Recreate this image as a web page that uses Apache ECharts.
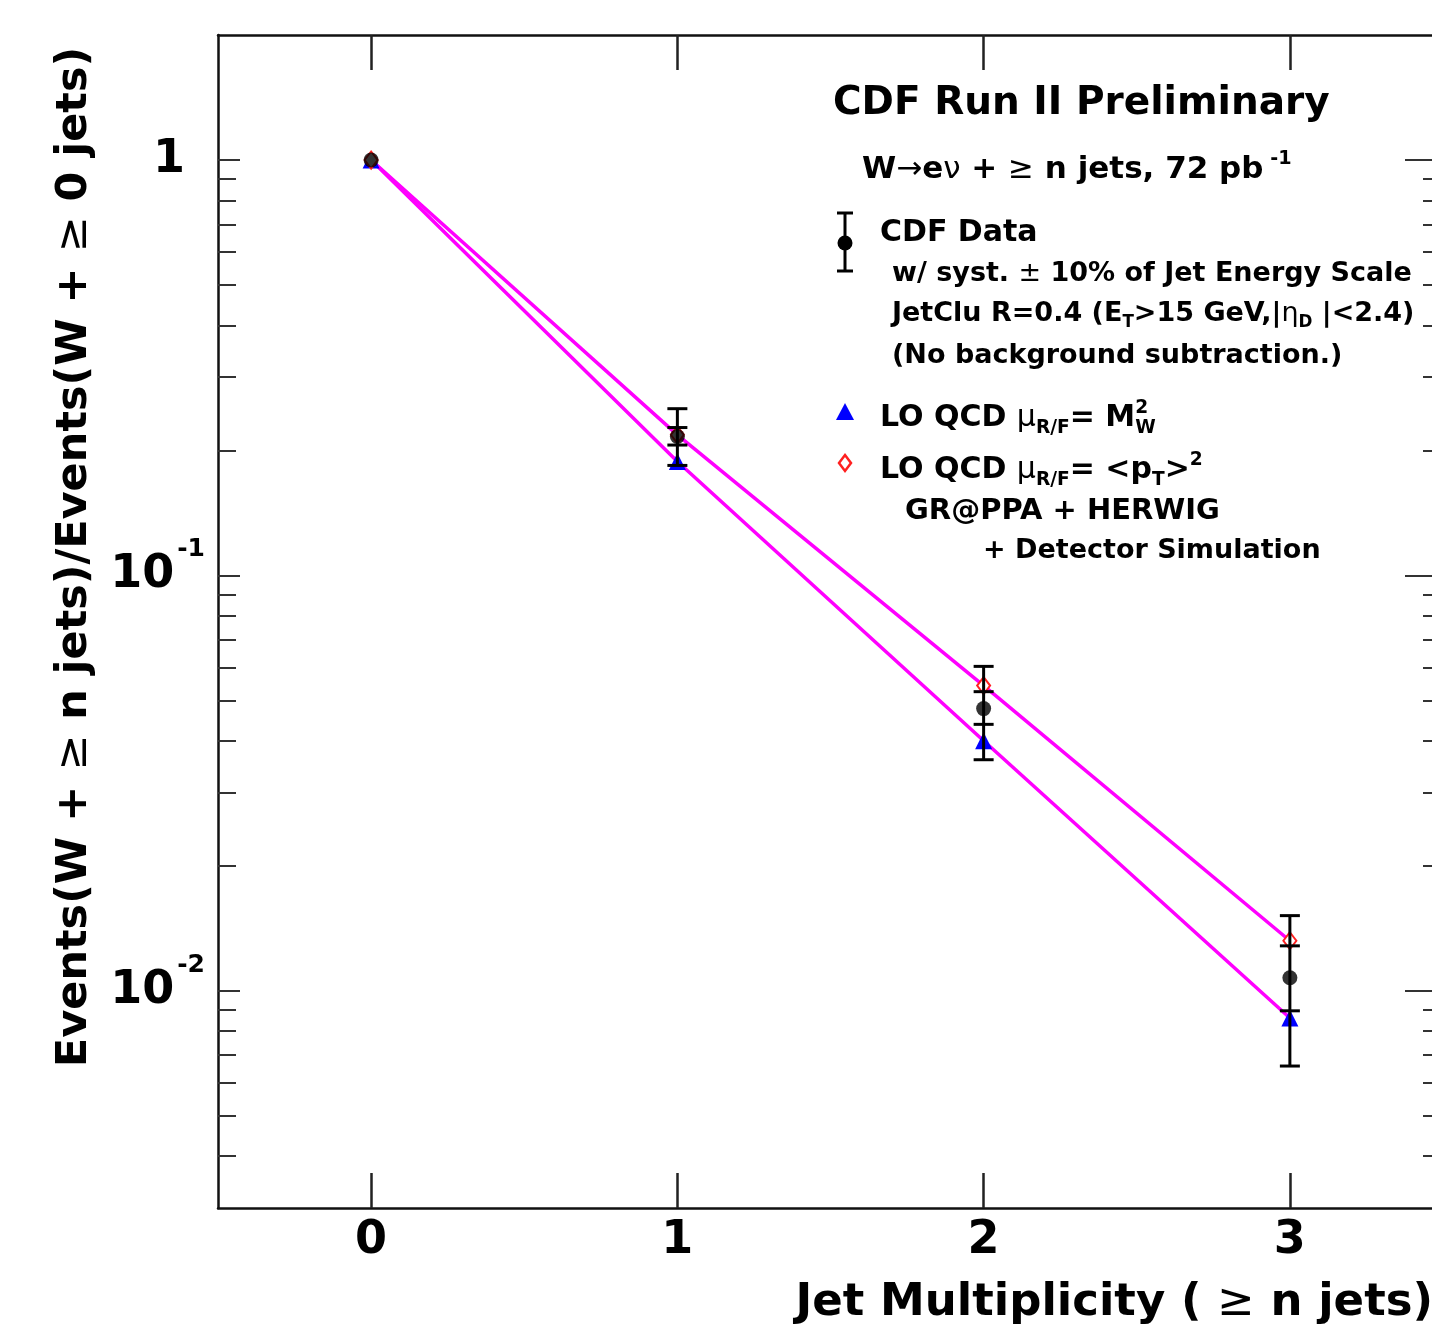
<!DOCTYPE html>
<html>
<head>
<meta charset="utf-8">
<script src="https://cdn.jsdelivr.net/npm/echarts@6/dist/echarts.min.js"></script>
<style>
html, body { margin: 0; padding: 0; background: #fff; }
#jetchart { width: 1432px; height: 1338px; }
</style>
</head>
<body>
<div id="jetchart"></div>
<script>
// jet multiplicity bins
var nJets = [0, 1, 2, 3];
// CDF data, ratio to >= 0 jets
var cdfRatio = [1.0, 0.216, 0.0478, 0.01075];
var cdfStatLow = [1.0, 0.206, 0.0438, 0.00895];
var cdfStatHigh = [1.0, 0.227, 0.0525, 0.01283];
var cdfTotLow = [1.0, 0.184, 0.0360, 0.00659];
var cdfTotHigh = [1.0, 0.252, 0.0604, 0.01517];
// LO QCD predictions
var lqcdMw = [1.0, 0.188, 0.0400, 0.0086];
var lqcdPt = [1.0, 0.218, 0.0543, 0.0132];
// axis ticks
var xTicks = [0, 1, 2, 3];
var yMin = 0.003, yMax = 2;

var F = 'DejaVu Sans';
var logMin = Math.log10(yMin), logMax = Math.log10(yMax);
var majorLog = [-2, -1, 0];
var minorLog = [];
for (var d = -3; d <= 0; d++) {
	for (var k = 2; k <= 9; k++) {
		var v = d + Math.log10(k);
		if (v > logMin + 1e-9 && v < logMax - 1e-9) minorLog.push(v);
	}
}

var mctx = document.createElement('canvas').getContext('2d');
function tw(s, size, w) {
	mctx.font = (w || 'bold') + ' ' + size + 'px "' + F + '"';
	return mctx.measureText(s).width;
}

function richSet(size) {
	return {
		b: { fontSize: size, fontWeight: 'bold', fontFamily: F, fill: '#000', lineHeight: size * 1.3 },
		r: { fontSize: size, fontWeight: 'normal', fontFamily: F, fill: '#000', lineHeight: size * 1.3 },
		sup: { fontSize: size * 0.62, fontWeight: 'bold', fontFamily: F, fill: '#000', verticalAlign: 'top', lineHeight: size * 0.6 },
		sub: { fontSize: size * 0.62, fontWeight: 'bold', fontFamily: F, fill: '#000', verticalAlign: 'bottom', lineHeight: size * 0.6 }
	};
}

function txt(x, y, text, size, extra) {
	var el = {
		type: 'text', x: x, y: y, z: 100,
		style: {
			text: text, rich: richSet(size),
			font: 'bold ' + size + 'px "' + F + '"',
			fill: '#000', align: 'left', verticalAlign: 'middle'
		}
	};
	if (extra) for (var key in extra) el[key] = extra[key];
	return el;
}

var axisColor = '#111';
var tickStyle = { color: '#333', width: 2 };

var jetchart = echarts.init(document.getElementById('jetchart'));

// x of the stacked 2 / W in M_W^2
var mwX = 880 + tw('LO QCD ', 30) + tw('μ', 30, 'normal') + tw('R/F', 30 * 0.62) + tw('= M', 30);

var jetoption = {
	animation: false,
	backgroundColor: '#fff',
	grid: { left: 218, top: 35, width: 1225, height: 1173, containLabel: false, outerBoundsMode: 'none' },
	xAxis: [{
		type: 'value', min: -0.5, max: 3.5, position: 'bottom',
		axisLine: { show: true, onZero: false, lineStyle: { color: axisColor, width: 2.5 } },
		axisTick: { show: true, inside: true, length: 35, customValues: xTicks, lineStyle: { color: '#222', width: 2.5 } },
		axisLabel: { show: true, customValues: xTicks, margin: 10, fontSize: 46, fontWeight: 'bold', fontFamily: F, color: '#000' },
		splitLine: { show: false }
	}, {
		type: 'value', min: -0.5, max: 3.5, position: 'top',
		axisLine: { show: true, onZero: false, lineStyle: { color: axisColor, width: 2.5 } },
		axisTick: { show: true, inside: true, length: 35, customValues: xTicks, lineStyle: { color: '#222', width: 2.5 } },
		axisLabel: { show: false },
		splitLine: { show: false }
	}],
	yAxis: [{
		type: 'log', logBase: 10, min: yMin, max: yMax, position: 'left',
		axisLine: { show: true, onZero: false, lineStyle: { color: axisColor, width: 2.5 } },
		axisTick: { show: true, inside: true, length: 22, lineStyle: tickStyle },
		axisLabel: {
			show: true, margin: 13, showMinLabel: false, showMaxLabel: false,
			formatter: function (val) {
				var e = Math.round(Math.log10(val));
				if (e === 0) return '{one|1}';
				return '{b|10}{e|' + e + '}';
			},
			rich: {
				one: { fontSize: 46, fontWeight: 'bold', fontFamily: F, color: '#000', padding: [0, 20, 0, 0], lineHeight: 76 },
				b: { fontSize: 46, fontWeight: 'bold', fontFamily: F, color: '#000', lineHeight: 76, padding: [0, 3, 0, 0] },
				e: { fontSize: 25, fontWeight: 'bold', fontFamily: F, color: '#000', verticalAlign: 'top', lineHeight: 27 }
			}
		},
		splitLine: { show: false }
	}, {
		type: 'value', min: logMin, max: logMax, position: 'left', offset: 0,
		axisLine: { show: false, onZero: false },
		axisTick: { show: true, inside: true, length: 18, customValues: minorLog, lineStyle: tickStyle },
		axisLabel: { show: false },
		splitLine: { show: false }
	}, {
		type: 'value', min: logMin, max: logMax, position: 'right', offset: 0,
		axisLine: { show: true, onZero: false, lineStyle: { color: axisColor, width: 2.5 } },
		axisTick: { show: true, inside: true, length: 38, customValues: majorLog, lineStyle: tickStyle },
		axisLabel: { show: false },
		splitLine: { show: false }
	}, {
		type: 'value', min: logMin, max: logMax, position: 'right', offset: 0,
		axisLine: { show: false, onZero: false },
		axisTick: { show: true, inside: true, length: 20, customValues: minorLog, lineStyle: tickStyle },
		axisLabel: { show: false },
		splitLine: { show: false }
	}],
	series: [{
		name: 'LO QCD MW2',
		type: 'line', xAxisIndex: 0, yAxisIndex: 0, z: 2,
		data: nJets.map(function (n, i) { return [n, lqcdMw[i]]; }),
		symbol: 'triangle', symbolSize: 17,
		itemStyle: { color: '#0000ff' },
		lineStyle: { color: '#ff00ff', width: 3.5 }
	}, {
		name: 'LO QCD pT2',
		type: 'line', xAxisIndex: 0, yAxisIndex: 0, z: 2,
		data: nJets.map(function (n, i) { return [n, lqcdPt[i]]; }),
		symbol: 'emptyDiamond', symbolSize: [13, 17],
		itemStyle: { color: '#ff2020', borderWidth: 2 },
		lineStyle: { color: '#ff00ff', width: 3.5 }
	}, {
		name: 'CDF errors',
		type: 'custom', xAxisIndex: 0, yAxisIndex: 0, z: 3,
		data: nJets.map(function (n, i) { return [n, cdfStatLow[i], cdfStatHigh[i], cdfTotLow[i], cdfTotHigh[i]]; }),
		encode: { x: 0, y: [3, 4] },
		renderItem: function (params, api) {
			var x = api.value(0);
			var tLo = api.coord([x, api.value(3)]), tHi = api.coord([x, api.value(4)]);
			var sLo = api.coord([x, api.value(1)]), sHi = api.coord([x, api.value(2)]);
			if (Math.abs(tHi[1] - tLo[1]) < 1) return null;
			var st = { stroke: '#000', lineWidth: 3 };
			var cap = 10;
			var kids = [{ type: 'line', shape: { x1: tLo[0], y1: tLo[1], x2: tHi[0], y2: tHi[1] }, style: st }];
			[tLo, tHi, sLo, sHi].forEach(function (p) {
				kids.push({ type: 'line', shape: { x1: p[0] - cap, y1: p[1], x2: p[0] + cap, y2: p[1] }, style: st });
			});
			return { type: 'group', children: kids };
		}
	}, {
		name: 'CDF Data',
		type: 'scatter', xAxisIndex: 0, yAxisIndex: 0, z: 4,
		data: nJets.map(function (n, i) { return [n, cdfRatio[i]]; }),
		symbol: 'circle', symbolSize: 15,
		itemStyle: { color: '#000' }
	}],
	graphic: [
		txt(833, 104, 'CDF Run II Preliminary', 39),
		txt(862, 170, '{b|W}{r|→}{b|e}{r|ν} {b|+} {r|≥} {b|n jets, 72 pb}{sup| -1}', 31),
		// legend: data
		{ type: 'line', shape: { x1: 845, y1: 213, x2: 845, y2: 271 }, style: { stroke: '#000', lineWidth: 3 } },
		{ type: 'line', shape: { x1: 837, y1: 213, x2: 853, y2: 213 }, style: { stroke: '#000', lineWidth: 3 } },
		{ type: 'line', shape: { x1: 837, y1: 271, x2: 853, y2: 271 }, style: { stroke: '#000', lineWidth: 3 } },
		{ type: 'circle', shape: { cx: 845, cy: 243, r: 7.5 }, style: { fill: '#000' } },
		txt(880, 233, 'CDF Data', 30),
		txt(892, 274, 'w/ syst. {r|±} 10% of Jet Energy Scale', 27),
		txt(892, 314, 'JetClu R=0.4 (E{sub|T}>15 GeV,|{r|η}{sub|D} |<2.4)', 27),
		txt(892, 356, '(No background subtraction.)', 27),
		// legend: LO QCD
		{ type: 'polygon', shape: { points: [[845, 403], [836, 420], [854, 420]] }, style: { fill: '#0000ff' } },
		txt(880, 418, 'LO QCD {r|μ}{sub|R/F}= M{sup|2}', 30),
		txt(mwX, 418 + 10, 'W', 18.6),
		{ type: 'polygon', shape: { points: [[845, 455], [851, 463], [845, 471], [839, 463]] }, style: { fill: '#fff', stroke: '#ff2020', lineWidth: 2.5 } },
		txt(880, 470, 'LO QCD {r|μ}{sub|R/F}= <p{sub|T}>{sup|2}', 30),
		txt(905, 511, 'GR@PPA + HERWIG', 29),
		txt(983, 551, '+ Detector Simulation', 27),
		// axis titles
		txt(75, 557, 'Events(W + {r|≥} n jets)/Events(W + {r|≥} 0 jets)', 43, { rotation: Math.PI / 2 }),
		txt(1433, 1303, 'Jet Multiplicity ( {r|≥} n jets)', 45)
	]
};
jetoption.graphic[jetoption.graphic.length - 2].style.align = 'center';
jetoption.graphic[jetoption.graphic.length - 1].style.align = 'right';
jetchart.setOption(jetoption);

window.addEventListener('resize', function () {
	jetchart.resize();
});
</script>
</body>
</html>
